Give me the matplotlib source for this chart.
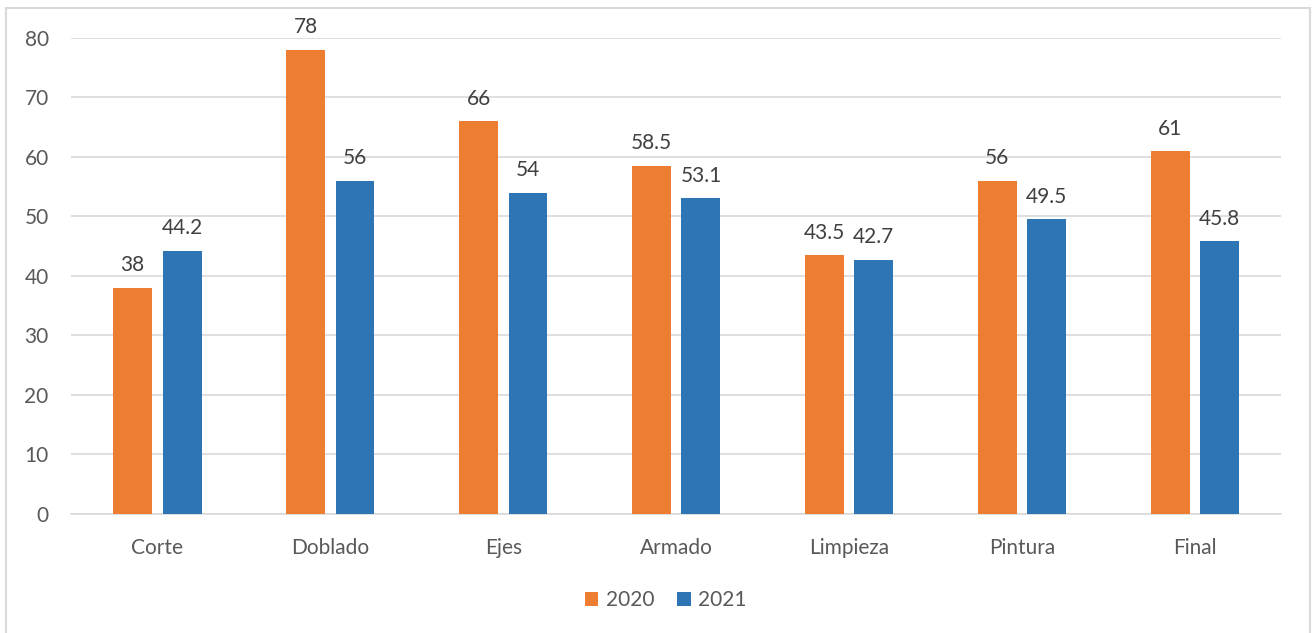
import matplotlib
matplotlib.use('Agg')
import matplotlib.pyplot as plt
from matplotlib.patches import Rectangle
import numpy as np

categories = ['Corte', 'Doblado', 'Ejes', 'Armado', 'Limpieza', 'Pintura', 'Final']
values_2020 = [38, 78, 66, 58.5, 43.5, 56, 61]
values_2021 = [44.2, 56, 54, 53.1, 42.7, 49.5, 45.8]

orange = '#ED7D31'
blue = '#2E75B6'
text_col = '#595959'
grid_col = '#D9D9D9'

plt.rcParams['font.family'] = ['Lato', 'DejaVu Sans']

fig = plt.figure(figsize=(13.13, 6.33), dpi=100)
ax = fig.add_axes([0.054, 0.188, 0.922, 0.752])

x = np.arange(len(categories))
w = 0.225
b1 = ax.bar(x - 0.143, values_2020, w, color=orange, label='2020', zorder=3)
b2 = ax.bar(x + 0.143, values_2021, w, color=blue, label='2021', zorder=3)

for bars, vals in [(b1, values_2020), (b2, values_2021)]:
    for r, v in zip(bars, vals):
        ax.annotate(f'{v:g}', (r.get_x() + r.get_width() / 2, v),
                    xytext=(0, 9), textcoords='offset points',
                    ha='center', va='bottom', fontsize=15, color='#404040',
                    annotation_clip=False)

ax.set_xlim(-0.5, len(categories) - 0.5)
ax.set_ylim(0, 80)
ax.set_yticks(range(0, 81, 10))
ax.set_xticks(x)
ax.set_xticklabels(categories)
ax.yaxis.grid(True, color=grid_col, linewidth=1.2, zorder=0)
ax.tick_params(axis='both', length=0, labelsize=15, labelcolor=text_col)
ax.tick_params(axis='x', pad=17)
ax.tick_params(axis='y', pad=16)
for s in ['top', 'right', 'left']:
    ax.spines[s].set_visible(False)
ax.spines['bottom'].set_color(grid_col)
ax.spines['bottom'].set_linewidth(1.2)

leg = fig.legend(loc='center', bbox_to_anchor=(0.507, 0.052), ncol=2, frameon=False,
                 fontsize=15, handlelength=0.65, handleheight=0.65, columnspacing=1.1,
                 handletextpad=0.35)
for t in leg.get_texts():
    t.set_color(text_col)

# outer chart border
fig.patches.append(Rectangle((6 / 1313, -0.1), 1304 / 1313, 1.1 - 8 / 633,
                             transform=fig.transFigure, fill=False,
                             edgecolor='#D9D9D9', linewidth=1.5))

fig.savefig('out.png', dpi=100)
